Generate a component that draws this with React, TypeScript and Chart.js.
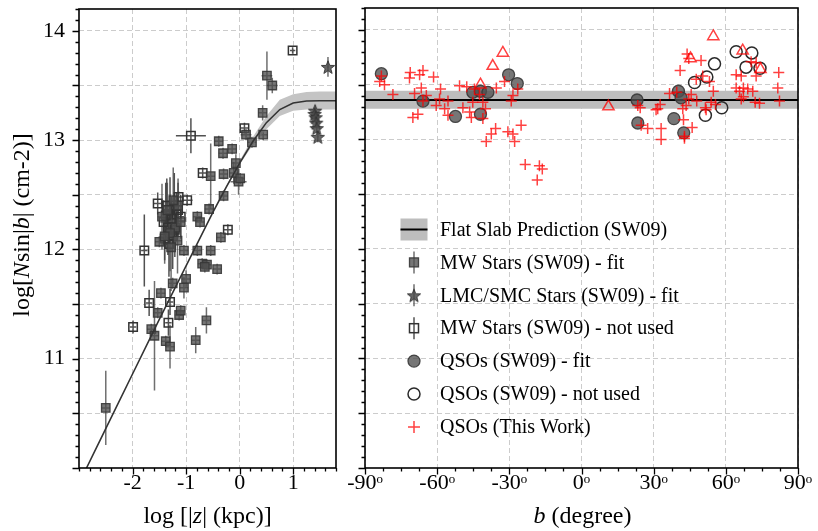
import React, { useEffect, useRef } from "react";
import { Chart, registerables } from "chart.js";
Chart.register(...registerables);

const FONT = '"Liberation Serif", "Times New Roman", "DejaVu Serif", serif';

// ---------------- Left panel data: log|z| (kpc) vs log N sin|b| ----------------
const MW_FIT_LOGZ = [0.51, 0.61, 0.43, 0.44, 0.12, 0.23, -0.39, -0.31, -0.14, -0.07, -0.11, -0.54, -0.30, -0.02, 0.01, -0.30, -0.57, -0.79, -0.74, -0.35, -1.50, -1.04, -0.79, -0.54, -0.70, -0.61, -0.42, -0.65, -1.25, -1.00, -1.04, -1.47, -1.53, -1.13, -1.10, -0.62, -1.65, -1.59, -1.38, -1.30, -0.82, -2.50, -1.45, -1.35, -1.20, -1.15, -1.30, -1.24, -1.10, -1.40, -1.16, -1.28];
const MW_FIT_N = [13.59, 13.50, 13.25, 13.05, 13.05, 12.98, 12.99, 12.88, 12.92, 12.79, 12.70, 12.67, 12.69, 12.62, 12.65, 12.49, 12.37, 12.30, 12.25, 12.11, 12.07, 11.99, 11.99, 11.99, 11.87, 11.86, 11.82, 11.84, 11.69, 11.73, 11.65, 11.60, 11.42, 11.40, 11.44, 11.35, 11.27, 11.21, 11.16, 11.11, 11.17, 10.55, 12.30, 12.36, 12.20, 12.40, 12.15, 12.45, 12.25, 12.12, 12.08, 12.02];
const MW_FIT_YERR = [0.22, 0.07, 0.07, 0.05, 0.05, 0.05, 0.05, 0.05, 0.05, 0.08, 0.10, 0.30, 0.05, 0.12, 0.05, 0.05, 0.05, 0.05, 0.05, 0.05, 0.05, 0.05, 0.05, 0.05, 0.05, 0.05, 0.05, 0.05, 0.05, 0.08, 0.10, 0.05, 0.05, 0.05, 0.05, 0.12, 0.05, 0.50, 0.05, 0.20, 0.12, 0.34, 0.30, 0.25, 0.20, 0.25, 0.35, 0.30, 0.15, 0.25, 0.30, 0.40];
const MW_FIT_XERR = [0.10, 0.10, 0.08, 0.08, 0.10, 0.08, 0.08, 0.08, 0.08, 0.08, 0.08, 0.08, 0.08, 0.15, 0.08, 0.08, 0.08, 0.08, 0.08, 0.08, 0.08, 0.08, 0.08, 0.08, 0.08, 0.08, 0.08, 0.08, 0.08, 0.08, 0.08, 0.08, 0.08, 0.08, 0.08, 0.08, 0.08, 0.08, 0.08, 0.08, 0.08, 0.08, 0.08, 0.08, 0.08, 0.08, 0.08, 0.08, 0.08, 0.08, 0.08, 0.08];

const MW_NU_LOGZ = [0.99, 0.09, -0.91, -0.69, -0.98, -1.14, -1.53, -0.22, -1.78, -1.69, -1.30, -1.99, -1.33, -1.42, -1.38, -1.34, -1.30, -1.27, -1.22, -1.21, -1.18, -1.40, -1.32, -1.15, -1.10, -1.36, -1.25];
const MW_NU_N = [13.82, 13.11, 13.04, 12.70, 12.45, 12.48, 12.42, 12.18, 11.99, 11.51, 11.52, 11.29, 11.33, 12.25, 12.31, 12.20, 12.36, 12.28, 12.40, 12.18, 12.32, 12.10, 12.05, 12.36, 12.30, 12.40, 12.12];
const MW_NU_YERR = [0.03, 0.05, 0.16, 0.05, 0.05, 0.05, 0.10, 0.05, 0.33, 0.12, 0.12, 0.06, 0.12, 0.20, 0.30, 0.25, 0.30, 0.20, 0.30, 0.25, 0.20, 0.20, 0.30, 0.25, 0.20, 0.25, 0.30];
const MW_NU_XERR = [0.05, 0.08, 0.28, 0.08, 0.10, 0.08, 0.08, 0.08, 0.06, 0.06, 0.06, 0.06, 0.06, 0.06, 0.06, 0.06, 0.06, 0.06, 0.06, 0.06, 0.06, 0.06, 0.06, 0.06, 0.06, 0.06, 0.06];

const STAR_LOGZ = [1.65, 1.41, 1.40, 1.42, 1.43, 1.44, 1.46];
const STAR_N = [13.67, 13.27, 13.24, 13.21, 13.16, 13.11, 13.03];
const STAR_YERR = [0.09, 0.05, 0.05, 0.05, 0.05, 0.05, 0.05];
const STAR_XERR = [0.02, 0.02, 0.02, 0.02, 0.02, 0.02, 0.02];

const CURVE_LOGZ = [-2.86, -2.5, -2.0, -1.5, -1.0, -0.5, -0.25, 0.0, 0.25, 0.5, 0.75, 1.0, 1.25, 1.5, 1.8];
const CURVE_N = [10.0, 10.36, 10.86, 11.36, 11.85, 12.34, 12.57, 12.79, 12.99, 13.16, 13.28, 13.34, 13.358, 13.36, 13.36];
const BAND_LOGZ = [-0.25, 0.0, 0.25, 0.5, 0.75, 1.0, 1.25, 1.5, 1.8];
const BAND_UP = [12.58, 12.81, 13.03, 13.22, 13.37, 13.42, 13.44, 13.445, 13.445];
const BAND_LO = [12.565, 12.775, 12.96, 13.10, 13.22, 13.27, 13.28, 13.28, 13.28];

// ---------------- Right panel data: b (degree) vs log N sin|b| ----------------
const QSO_FIT_B = [-83.2, -65.9, -52.4, -45.2, -42.0, -38.9, -42.0, -30.3, -26.7, 23.1, 23.4, 38.4, 40.3, 41.4, 42.5];
const QSO_FIT_N = [13.60, 13.35, 13.21, 13.43, 13.44, 13.43, 13.23, 13.59, 13.51, 13.36, 13.15, 13.19, 13.44, 13.38, 13.06];
const QSO_NU_B = [64.3, 70.8, 68.4, 74.2, 55.3, 52.1, 47.0, 51.5, 58.3];
const QSO_NU_N = [13.80, 13.79, 13.66, 13.65, 13.69, 13.57, 13.52, 13.22, 13.29];
const TRI_B = [-32.7, -36.9, -42.0, 11.2, 54.8, 45.3, 67.0, 74.4];
const TRI_N = [13.79, 13.67, 13.50, 13.30, 13.94, 13.74, 13.81, 13.64];
const PLUS_B = [-83.2, -83.9, -81.9, -78.4, -71.2, -71.5, -65.9, -67.3, -61.5, -66.6, -69.4, -64.5, -65.9, -68.0, -70.1, -58.6, -59.0, -55.5, -60.4, -56.9, -55.5, -50.7, -47.7, -49.3, -46.5, -45.8, -44.5, -42.4, -45.2, -41.0, -39.9, -41.0, -39.6, -37.5, -35.7, -35.4, -32.0, -28.5, -29.2, -26.5, -30.6, -28.5, -27.8, -25.1, -23.4, -17.5, -16.3, -18.4,
  43.9, 44.6, 49.7, 41.0, 47.7, 50.4, 53.2, 54.8, 36.6, 39.6, 44.6, 47.9, 43.5, 42.1, 32.7, 31.0, 24.4, 53.9, 55.7, 51.8, 42.4, 46.0, 42.8, 42.8, 27.5, 33.1, 33.1, 24.8, 64.3, 66.4, 64.3, 65.7, 67.3, 69.1, 71.2, 70.5, 72.6, 72.6, 82.0, 81.6, 82.3, 72.2, 74.0, 67.3, 66.4, 45.6, 51.5, 31.7, 23.4];
const PLUS_N = [13.58, 13.53, 13.50, 13.41, 13.61, 13.56, 13.63, 13.59, 13.57, 13.47, 13.42, 13.40, 13.35, 13.23, 13.20, 13.46, 13.37, 13.35, 13.31, 13.28, 13.22, 13.49, 13.48, 13.29, 13.25, 13.20, 13.46, 13.41, 13.34, 13.34, 13.28, 13.19, 12.98, 13.05, 13.10, 13.47, 13.53, 13.40, 13.35, 13.46, 13.07, 13.05, 12.98, 13.13, 12.77, 12.76, 12.73, 12.63,
  13.78, 13.74, 13.72, 13.63, 13.55, 13.58, 13.53, 13.44, 13.42, 13.43, 13.37, 13.35, 13.31, 13.28, 13.32, 13.27, 13.29, 13.34, 13.32, 13.27, 13.18, 13.11, 13.03, 13.01, 13.10, 13.10, 13.00, 13.13, 13.59, 13.58, 13.47, 13.44, 13.47, 13.46, 13.44, 13.71, 13.70, 13.58, 13.61, 13.47, 13.35, 13.34, 13.33, 13.39, 13.37, 13.41, 13.29, 13.28, 13.31];
const FLAT_B = [-90, 90];
const FLAT_N = [13.36, 13.36];
const FLAT_UP = [13.445, 13.445];
const FLAT_LO = [13.28, 13.28];

// ---------------- Axes ----------------
const Y_GRID = [10.5, 11, 11.5, 12, 12.5, 13, 13.5, 14];
const Y_LABELS = ["11", "12", "13", "14"];
const Y_LABEL_VALUES = [11, 12, 13, 14];
const LEFT_X_TICKS = [-2, -1, 0, 1];
const LEFT_X_LABELS = ["-2", "-1", "0", "1"];
const RIGHT_X_TICKS = [-90, -60, -30, 0, 30, 60, 90];
const RIGHT_X_LABELS = ["-90ᵒ", "-60ᵒ", "-30ᵒ", "0ᵒ", "30ᵒ", "60ᵒ", "90ᵒ"];
const LEGEND_LABELS = [
  "Flat Slab Prediction (SW09)",
  "MW Stars (SW09) - fit",
  "LMC/SMC Stars (SW09) - fit",
  "MW Stars (SW09) - not used",
  "QSOs (SW09) - fit",
  "QSOs (SW09) - not used",
  "QSOs (This Work)",
];

const GRID_COLOR = "#cccccc";
const FILL_SQ = "rgba(80,80,80,0.78)";
const EDGE_SQ = "rgba(55,55,55,0.9)";
const RED = "rgba(255,0,0,0.75)";

const pts = (xs: number[], ys: number[]) => xs.map((x, i) => ({ x, y: ys[i] }));
const range = (a: number, b: number, s: number) => {
  const out: number[] = [];
  for (let v = a; v <= b + 1e-9; v += s) out.push(Math.round(v * 1000) / 1000);
  return out;
};

function makeStar(size: number) {
  const c = document.createElement("canvas");
  c.width = size;
  c.height = size;
  const g = c.getContext("2d")!;
  const cx = size / 2, cy = size / 2 + 0.8, R = size / 2 - 1, r = R * 0.42;
  g.beginPath();
  for (let k = 0; k < 10; k++) {
    const ang = -Math.PI / 2 + (k * Math.PI) / 5;
    const rad = k % 2 === 0 ? R : r;
    g.lineTo(cx + rad * Math.cos(ang), cy + rad * Math.sin(ang));
  }
  g.closePath();
  g.fillStyle = "rgba(75,75,75,0.85)";
  g.fill();
  g.strokeStyle = "rgba(50,50,50,0.9)";
  g.lineWidth = 1;
  g.stroke();
  return c;
}

type Seg = { t: string; i?: boolean };
function drawRich(ctx: CanvasRenderingContext2D, segs: Seg[], cx: number, cy: number, size: number, rot: number) {
  ctx.save();
  ctx.translate(cx, cy);
  ctx.rotate(rot);
  ctx.fillStyle = "#000";
  ctx.textBaseline = "middle";
  ctx.textAlign = "left";
  let total = 0;
  const widths = segs.map((s) => {
    ctx.font = `${s.i ? "italic " : ""}${size}px ${FONT}`;
    const w = ctx.measureText(s.t).width;
    total += w;
    return w;
  });
  let x = -total / 2;
  segs.forEach((s, k) => {
    ctx.font = `${s.i ? "italic " : ""}${size}px ${FONT}`;
    ctx.fillText(s.t, x, 0);
    x += widths[k];
  });
  ctx.restore();
}

function errorBars(sets: { ds: number; xerr: number[]; yerr: number[]; color: string }[]) {
  return {
    id: "errbars",
    beforeDatasetsDraw(chart: any) {
      const { ctx } = chart;
      const xs = chart.scales.x, ys = chart.scales.y;
      ctx.save();
      ctx.lineWidth = 1.5;
      for (const s of sets) {
        const data = chart.data.datasets[s.ds].data as { x: number; y: number }[];
        ctx.strokeStyle = s.color;
        data.forEach((p, i) => {
          const px = xs.getPixelForValue(p.x), py = ys.getPixelForValue(p.y);
          ctx.beginPath();
          ctx.moveTo(px, ys.getPixelForValue(p.y - s.yerr[i]));
          ctx.lineTo(px, ys.getPixelForValue(p.y + s.yerr[i]));
          ctx.moveTo(xs.getPixelForValue(p.x - s.xerr[i]), py);
          ctx.lineTo(xs.getPixelForValue(p.x + s.xerr[i]), py);
          ctx.stroke();
        });
      }
      ctx.restore();
    },
  };
}

function frameAndTicks(xMajor: number[], xMinor: number[], yMajor: number[], yMinor: number[]) {
  return {
    id: "frame",
    afterDatasetsDraw(chart: any) {
      const { ctx, chartArea: a } = chart;
      const xs = chart.scales.x, ys = chart.scales.y;
      ctx.save();
      ctx.strokeStyle = "#000";
      ctx.lineWidth = 1.3;
      ctx.beginPath();
      yMajor.forEach((v) => { const y = Math.round(ys.getPixelForValue(v)) + 0.5; ctx.moveTo(a.left - 6.5, y); ctx.lineTo(a.left, y); });
      yMinor.forEach((v) => { const y = Math.round(ys.getPixelForValue(v)) + 0.5; ctx.moveTo(a.left - 3.5, y); ctx.lineTo(a.left, y); });
      xMajor.forEach((v) => { const x = Math.round(xs.getPixelForValue(v)) + 0.5; ctx.moveTo(x, a.bottom); ctx.lineTo(x, a.bottom + 6.5); });
      xMinor.forEach((v) => { const x = Math.round(xs.getPixelForValue(v)) + 0.5; ctx.moveTo(x, a.bottom); ctx.lineTo(x, a.bottom + 3.5); });
      ctx.stroke();
      ctx.lineWidth = 1.6;
      ctx.strokeRect(a.left, a.top, a.right - a.left, a.bottom - a.top);
      ctx.restore();
    },
  };
}

const Y_MAJOR = range(10, 14, 0.5);
const Y_MINOR = range(10, 14.2, 0.1);

const noPad = (s: any) => { s.paddingTop = 0; s.paddingBottom = 0; s.paddingLeft = 0; s.paddingRight = 0; };

function yScale(showLabels: boolean, width: number) {
  return {
    type: "linear" as const,
    min: 10,
    max: 14.2,
    afterFit: (s: any) => { s.width = width; noPad(s); },
    afterBuildTicks: (s: any) => { s.ticks = Y_GRID.map((v) => ({ value: v })); },
    ticks: {
      display: showLabels,
      padding: 14,
      color: "#000",
      font: { family: FONT, size: 22 },
      callback: (v: any) => { const k = Y_LABEL_VALUES.indexOf(Number(v)); return k >= 0 ? Y_LABELS[k] : ""; },
    },
    grid: { color: GRID_COLOR, lineWidth: 1, drawTicks: false },
    border: { display: false, dash: [5, 3] },
  };
}

function xScale(min: number, max: number, ticks: number[], labels: string[]) {
  return {
    type: "linear" as const,
    min,
    max,
    afterFit: (s: any) => { s.height = 63; noPad(s); },
    afterBuildTicks: (s: any) => { s.ticks = ticks.map((v) => ({ value: v })); },
    ticks: {
      padding: 2,
      color: "#000",
      maxRotation: 0,
      autoSkip: false,
      font: { family: FONT, size: 22 },
      callback: (v: any) => { const k = ticks.indexOf(Number(v)); return k >= 0 ? labels[k] : ""; },
    },
    grid: { color: GRID_COLOR, lineWidth: 1, drawTicks: false },
    border: { display: false, dash: [5, 3] },
  };
}

function LeftChart() {
  const ref = useRef<HTMLCanvasElement>(null);
  useEffect(() => {
    const star = makeStar(16);
    const chart = new Chart(ref.current!, {
      type: "scatter",
      data: {
        datasets: [
          { data: pts(BAND_LOGZ, BAND_UP), showLine: true, fill: "+1", backgroundColor: "#c4c4c4", borderColor: "rgba(0,0,0,0)", borderWidth: 0, pointRadius: 0, order: 10 } as any,
          { data: pts(BAND_LOGZ, BAND_LO), showLine: true, fill: false, borderColor: "rgba(0,0,0,0)", borderWidth: 0, pointRadius: 0, order: 10 },
          { data: pts(MW_NU_LOGZ, MW_NU_N), pointStyle: "rect", pointRadius: 6, backgroundColor: "rgba(255,255,255,0)", borderColor: "#333", borderWidth: 1.5, order: 4 },
          { data: pts(MW_FIT_LOGZ, MW_FIT_N), pointStyle: "rect", pointRadius: 6, backgroundColor: FILL_SQ, borderColor: EDGE_SQ, borderWidth: 1.3, order: 3 },
          { data: pts(STAR_LOGZ, STAR_N), pointStyle: star as any, pointRadius: 8, order: 2 },
          { data: pts(CURVE_LOGZ, CURVE_N), showLine: true, borderColor: "#333", borderWidth: 1.6, pointRadius: 0, fill: false, order: 0 },
        ],
      },
      options: {
        animation: false,
        responsive: false,
        maintainAspectRatio: false,
        devicePixelRatio: 1,
        events: [],
        layout: { padding: { top: 5, right: 5, bottom: 0, left: 0 } },
        plugins: { legend: { display: false }, tooltip: { enabled: false } },
        scales: {
          x: xScale(-3, 1.8, LEFT_X_TICKS, LEFT_X_LABELS),
          y: yScale(true, 79),
        },
      },
      plugins: [
        errorBars([
          { ds: 2, xerr: MW_NU_XERR, yerr: MW_NU_YERR, color: "rgba(50,50,50,0.85)" },
          { ds: 3, xerr: MW_FIT_XERR, yerr: MW_FIT_YERR, color: "rgba(75,75,75,0.8)" },
          { ds: 4, xerr: STAR_XERR, yerr: STAR_YERR, color: "rgba(75,75,75,0.8)" },
        ]),
        frameAndTicks(LEFT_X_TICKS, range(-3, 1.8, 0.2), Y_MAJOR, Y_MINOR),
        {
          id: "titles",
          afterDraw(c: any) {
            const ctx = c.ctx;
            drawRich(ctx, [{ t: "log[" }, { t: "N", i: true }, { t: "sin|" }, { t: "b", i: true }, { t: "| (cm-2)]" }], 23, 225, 24, -Math.PI / 2);
            drawRich(ctx, [{ t: "log [|" }, { t: "z", i: true }, { t: "| (kpc)]" }], (c.chartArea.left + c.chartArea.right) / 2, 517, 24, 0);
          },
        },
      ],
    });
    return () => chart.destroy();
  }, []);
  return <canvas ref={ref} width={345} height={531} style={{ position: "absolute", left: 0, top: 0, width: 345, height: 531 }} />;
}

function RightChart() {
  const ref = useRef<HTMLCanvasElement>(null);
  useEffect(() => {
    const star = makeStar(16);
    const chart = new Chart(ref.current!, {
      type: "scatter",
      data: {
        datasets: [
          { data: pts(FLAT_B, FLAT_UP), showLine: true, fill: "+1", backgroundColor: "#bdbdbd", borderColor: "rgba(0,0,0,0)", borderWidth: 0, pointRadius: 0, order: 10 } as any,
          { data: pts(FLAT_B, FLAT_LO), showLine: true, fill: false, borderColor: "rgba(0,0,0,0)", borderWidth: 0, pointRadius: 0, order: 10 },
          { data: pts(FLAT_B, FLAT_N), showLine: true, fill: false, borderColor: "#000", borderWidth: 2, pointRadius: 0, order: 8 },
          { data: pts(QSO_FIT_B, QSO_FIT_N), pointStyle: "circle", pointRadius: 6, backgroundColor: "rgba(80,80,80,0.78)", borderColor: "rgba(55,55,55,0.9)", borderWidth: 1.3, order: 6 },
          { data: pts(QSO_NU_B, QSO_NU_N), pointStyle: "circle", pointRadius: 6, backgroundColor: "rgba(255,255,255,0)", borderColor: "#2a2a2a", borderWidth: 1.5, order: 5 },
          { data: pts(TRI_B, TRI_N), pointStyle: "triangle", pointRadius: 6.5, backgroundColor: "rgba(255,255,255,0)", borderColor: RED, borderWidth: 1.5, order: 4 },
          { data: pts(PLUS_B, PLUS_N), pointStyle: "cross", pointRadius: 5.5, borderColor: RED, borderWidth: 1.5, order: 3 },
        ],
      },
      options: {
        animation: false,
        responsive: false,
        maintainAspectRatio: false,
        devicePixelRatio: 1,
        events: [],
        layout: { padding: { top: 5, right: 20, bottom: 0, left: 0 } },
        plugins: { legend: { display: false }, tooltip: { enabled: false } },
        scales: {
          x: xScale(-90, 90, RIGHT_X_TICKS, RIGHT_X_LABELS),
          y: yScale(false, 25),
        },
      },
      plugins: [
        frameAndTicks(RIGHT_X_TICKS, range(-90, 90, 7.5), Y_MAJOR, Y_MINOR),
        {
          id: "titlesLegend",
          afterDraw(c: any) {
            const ctx: CanvasRenderingContext2D = c.ctx;
            const a = c.chartArea;
            drawRich(ctx, [{ t: "b", i: true }, { t: " (degree)" }], (a.left + a.right) / 2 + 1, 517, 24, 0);
            const mx = a.left + 49;
            const tx = a.left + 75;
            const y0 = a.top + 221.5;
            const dy = 32.9;
            ctx.save();
            ctx.fillStyle = "#bdbdbd";
            ctx.fillRect(mx - 13.5, y0 - 11, 27, 22);
            ctx.strokeStyle = "#000";
            ctx.lineWidth = 2;
            ctx.beginPath(); ctx.moveTo(mx - 13.5, y0); ctx.lineTo(mx + 13.5, y0); ctx.stroke();
            let y = y0 + dy;
            ctx.strokeStyle = "rgba(75,75,75,0.8)"; ctx.lineWidth = 1.5;
            ctx.beginPath(); ctx.moveTo(mx, y - 11); ctx.lineTo(mx, y + 11); ctx.stroke();
            ctx.fillStyle = FILL_SQ; ctx.strokeStyle = EDGE_SQ; ctx.lineWidth = 1.3;
            ctx.fillRect(mx - 4.5, y - 4.5, 9, 9); ctx.strokeRect(mx - 4.5, y - 4.5, 9, 9);
            y = y0 + 2 * dy;
            ctx.strokeStyle = "rgba(75,75,75,0.8)"; ctx.lineWidth = 1.5;
            ctx.beginPath(); ctx.moveTo(mx, y - 11); ctx.lineTo(mx, y + 11); ctx.stroke();
            ctx.drawImage(star, mx - 8, y - 8);
            y = y0 + 3 * dy;
            ctx.strokeStyle = "rgba(50,50,50,0.85)"; ctx.lineWidth = 1.5;
            ctx.beginPath(); ctx.moveTo(mx, y - 11); ctx.lineTo(mx, y + 11); ctx.stroke();
            ctx.strokeStyle = "#333"; ctx.strokeRect(mx - 4.5, y - 4.5, 9, 9);
            y = y0 + 4 * dy;
            ctx.beginPath(); ctx.arc(mx, y, 6, 0, Math.PI * 2);
            ctx.fillStyle = "rgba(80,80,80,0.78)"; ctx.fill();
            ctx.strokeStyle = "rgba(55,55,55,0.9)"; ctx.lineWidth = 1.3; ctx.stroke();
            y = y0 + 5 * dy;
            ctx.beginPath(); ctx.arc(mx, y, 6, 0, Math.PI * 2);
            ctx.strokeStyle = "#2a2a2a"; ctx.lineWidth = 1.5; ctx.stroke();
            y = y0 + 6 * dy;
            ctx.strokeStyle = RED; ctx.lineWidth = 1.5;
            ctx.beginPath(); ctx.moveTo(mx - 6, y); ctx.lineTo(mx + 6, y); ctx.moveTo(mx, y - 6); ctx.lineTo(mx, y + 6); ctx.stroke();
            ctx.fillStyle = "#000";
            ctx.font = `20px ${FONT}`;
            ctx.textBaseline = "middle";
            ctx.textAlign = "left";
            LEGEND_LABELS.forEach((t, k) => ctx.fillText(t, tx, y0 + k * dy + 1));
            ctx.restore();
          },
        },
      ],
    });
    return () => chart.destroy();
  }, []);
  return <canvas ref={ref} width={478} height={531} style={{ position: "absolute", left: 340, top: 0, width: 478, height: 531 }} />;
}

export default function App() {
  return (
    <div style={{ position: "absolute", left: 0, top: 0, width: 818, height: 531, background: "#fff", overflow: "hidden" }}>
      <LeftChart />
      <RightChart />
    </div>
  );
}
